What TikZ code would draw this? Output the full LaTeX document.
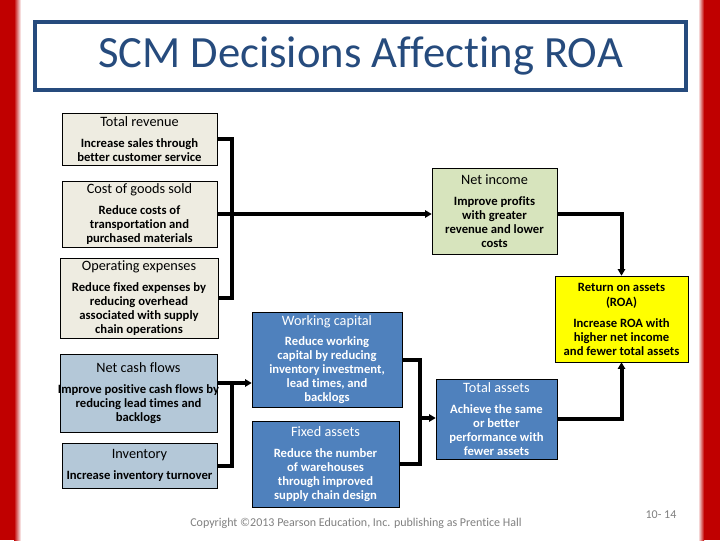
\documentclass[tikz,border=0pt]{standalone}
\usepackage{fontspec}
\setmainfont[Ligatures={NoCommon,NoContextual}]{Carlito}
\usetikzlibrary{arrows.meta,positioning}
\definecolor{SCM_Red}{HTML}{C00000}
\definecolor{SCM_Navy}{HTML}{264B7D}
\definecolor{SCM_Beige}{HTML}{EEECE1}
\definecolor{SCM_Steel}{HTML}{B4C8D8}
\definecolor{SCM_Blue}{HTML}{4F81BD}
\definecolor{SCM_Green}{HTML}{D7E4BD}
\definecolor{SCM_Yellow}{HTML}{FFFF00}
\definecolor{SCM_Gray}{HTML}{808080}
\newcommand{\headf}{\mdseries\fontsize{10.7}{10.5}\selectfont}
\newcommand{\bodyf}{\fontsize{9.5}{10.5}\selectfont\bfseries}

\begin{document}
\begin{tikzpicture}[x=0.75pt, y=-0.75pt,
    >={Triangle[length=5pt,width=5.5pt]},
    box/.style={draw=black, thin, inner sep=0pt, align=center, font=\bodyf},
    beigebox/.style={box, fill=SCM_Beige},
    steelbox/.style={box, fill=SCM_Steel},
    bluebox/.style={box, fill=SCM_Blue, text=white},
    link/.style={line width=3pt}]

    % Page and side bars
    \useasboundingbox (0,0) rectangle (720,540);
    \fill[white] (0,0) rectangle (720,540);
    \fill[SCM_Red] (0,0) rectangle (14,540);
    \shade[left color=SCM_Red, right color=white] (14,0) rectangle (21,540);
    \fill[SCM_Red] (704,0) rectangle (720,540);
    \shade[left color=white, right color=SCM_Red] (698,0) rectangle (704,540);

    % Title
    \node[draw=SCM_Navy, line width=3pt, minimum width=651*0.75pt, minimum height=68*0.75pt,
          text=SCM_Navy, font=\fontsize{33.5}{36}\selectfont] (title) at (360.5,56) {SCM Decisions Affecting ROA};

    % Income statement boxes
    \node[beigebox, minimum width=155*0.75pt, minimum height=52*0.75pt] (tr) at (139.5,139)
        {{\headf Total revenue}\\[5pt]Increase sales through\\better customer service};
    \node[beigebox, minimum width=155*0.75pt, minimum height=66*0.75pt] (cogs) at (139.5,214)
        {{\headf Cost of goods sold}\\[5pt]Reduce costs of\\transportation and\\purchased materials};
    \node[beigebox, minimum width=158*0.75pt, minimum height=80*0.75pt] (oe) at (139,298)
        {{\headf Operating expenses}\\[5pt]Reduce fixed expenses by\\reducing overhead\\associated with supply\\chain operations};

    % Asset boxes
    \node[steelbox, minimum width=157*0.75pt, minimum height=78*0.75pt] (ncf) at (138.5,393)
        {{\headf Net cash flows}\\[5pt]\makebox[100pt][c]{Improve positive cash flows by}\\reducing lead times and\\backlogs};
    \node[steelbox, minimum width=155*0.75pt, minimum height=45*0.75pt] (inv) at (139.5,465.5)
        {{\headf Inventory}\\[5pt]Increase inventory turnover};

    \node[box, fill=SCM_Green, minimum width=125*0.75pt, minimum height=86*0.75pt] (ni) at (494.5,211)
        {{\headf Net income}\\[5pt]Improve profits\\with greater\\revenue and lower\\costs};

    \node[bluebox, minimum width=150*0.75pt, minimum height=95*0.75pt] (wc) at (327,359.5)
        {{\headf Working capital}\\[5pt]Reduce working\\capital by reducing\\inventory investment,\\lead times, and\\backlogs};
    \node[bluebox, minimum width=147*0.75pt, minimum height=86*0.75pt] (fa) at (325.5,464)
        {{\headf Fixed assets}\\[5pt]Reduce the number\\of warehouses\\through improved\\supply chain design};
    \node[bluebox, minimum width=121*0.75pt, minimum height=80*0.75pt] (ta) at (496.5,419)
        {{\headf Total assets}\\[5pt]Achieve the same\\or better\\performance with\\fewer assets};

    \node[box, fill=SCM_Yellow, minimum width=133*0.75pt, minimum height=86*0.75pt] (roa) at (621.5,319)
        {Return on assets\\[1pt](ROA)\\[5pt]Increase ROA with\\higher net income\\and fewer total assets};

    % Junction points
    \coordinate (jl) at (232,383);
    \coordinate (ja) at (420,418);

    % Connectors
    \draw[link] (tr.east) -| (jl |- oe.east) -- (oe.east);
    \draw[link,->] (cogs.east) -- (cogs.east -| ni.west);
    \draw[link,->] (ni.east |- cogs.east) -| (roa.north);
    \draw[link,->] (ncf.east |- jl) -- (wc.west |- jl);
    \draw[link] (inv.east) -| (jl);
    \draw[link] (wc.east) -| (ja |- fa.east) -- (fa.east);
    \draw[link,->] (ja) -- (ja -| ta.west);
    \draw[link,->] (ta.east) -| (roa.south);

    % Footer
    \node[text=SCM_Gray, font=\fontsize{9}{10}\selectfont] (copy) at (356,523)
        {Copyright ©2013 Pearson Education, Inc. publishing as Prentice Hall};
    \node[text=SCM_Gray, font=\fontsize{9}{10}\selectfont] (page) at (661,515) {10- 14};

\end{tikzpicture}
\end{document}
